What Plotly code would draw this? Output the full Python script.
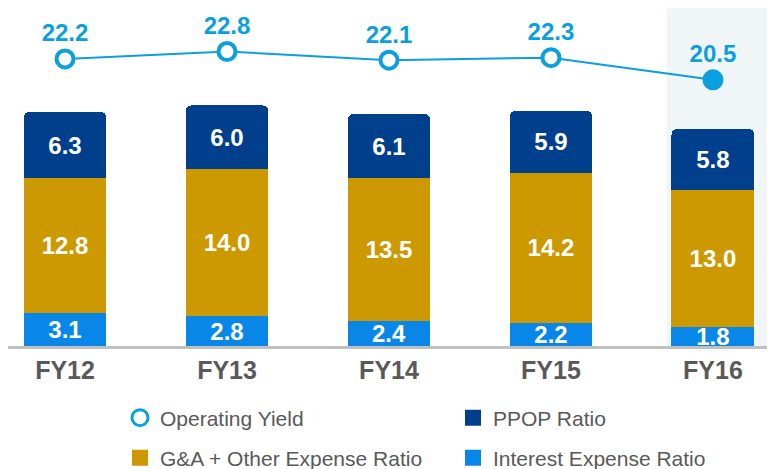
import plotly.graph_objects as go

categories = ["FY12", "FY13", "FY14", "FY15", "FY16"]
interest_expense = [3.1, 2.8, 2.4, 2.2, 1.8]
ga_other_expense = [12.8, 14.0, 13.5, 14.2, 13.0]
ppop_ratio = [6.3, 6.0, 6.1, 5.9, 5.8]
operating_yield = [22.2, 22.8, 22.1, 22.3, 20.5]

C_NAVY = "#003F8C"
C_GOLD = "#CC9900"
C_BLUE = "#0887E8"
C_LINE = "#0AA0E0"
GRAY = "#595959"
FONT = "Arial, Liberation Sans, sans-serif"

x_idx = list(range(len(categories)))

fig = go.Figure()

def fmt(v):
    return [f"{a:.1f}" for a in v]

for name, vals, col in [
    ("Interest Expense Ratio", interest_expense, C_BLUE),
    ("G&A + Other Expense Ratio", ga_other_expense, C_GOLD),
    ("PPOP Ratio", ppop_ratio, C_NAVY),
]:
    fig.add_trace(go.Bar(
        x=x_idx, y=vals, name=name, marker_color=col, marker_line_width=0,
        text=fmt(vals), textposition="inside", insidetextanchor="middle",
        textangle=0, textfont=dict(color="white", size=24, family=FONT, weight="bold"),
        width=0.512, showlegend=False, cliponaxis=False,
    ))

marker_fill = ["white"] * (len(categories) - 1) + [C_LINE]
fig.add_trace(go.Scatter(
    x=x_idx, y=operating_yield, name="Operating Yield", yaxis="y2",
    mode="lines+markers+text", text=fmt(operating_yield), textposition="top center",
    textfont=dict(color=C_LINE, size=24, family=FONT, weight="bold"),
    line=dict(color=C_LINE, width=2),
    marker=dict(size=17, color=marker_fill, line=dict(color=C_LINE, width=4)),
    showlegend=False, cliponaxis=False,
))

# legend entries
def leg(name, legend, symbol, color, lw=0, lc=None):
    fig.add_trace(go.Scatter(
        x=[None], y=[None], mode="markers", name=name, legend=legend,
        marker=dict(symbol=symbol, size=16, color=color,
                    line=dict(width=lw, color=lc or color)),
    ))

leg("Operating Yield", "legend", "circle", "white", 3, C_LINE)
leg("PPOP Ratio", "legend2", "square", C_NAVY)
leg("G&A + Other Expense Ratio", "legend3", "square", C_GOLD)
leg("Interest Expense Ratio", "legend4", "square", C_BLUE)

legfont = dict(size=21, color=GRAY, family=FONT)
common_leg = dict(orientation="h", xref="container", yref="container",
                  xanchor="left", yanchor="middle", font=legfont,
                  bgcolor="rgba(0,0,0,0)")
W, H = 775, 469
col1, col2 = 112 / W, 445 / W
row1, row2 = 1 - 410 / H, 1 - 450 / H

fig.update_layout(
    width=W, height=H,
    margin=dict(l=0, r=8, t=0, b=131),
    paper_bgcolor="white", plot_bgcolor="white",
    barmode="stack", barcornerradius=6,
    uniformtext=dict(minsize=24, mode="show"),
    xaxis=dict(range=[-0.352, 4.383], tickvals=x_idx, ticktext=categories,
               showgrid=False, zeroline=False, showline=True, linecolor="#C0C0C0",
               linewidth=3, ticks="", ticklabelstandoff=0,
               tickfont=dict(size=25, color=GRAY, family=FONT, weight="bold")),
    yaxis=dict(range=[0, 32.04], visible=False, showgrid=False, zeroline=False),
    yaxis2=dict(range=[-1.14, 26.34], overlaying="y", visible=False, showgrid=False,
                zeroline=False),
    legend=dict(x=col1, y=row1, **common_leg),
    legend2=dict(x=col2, y=row1, **common_leg),
    legend3=dict(x=col1, y=row2, **common_leg),
    legend4=dict(x=col2, y=row2, **common_leg),
    shapes=[dict(type="rect", xref="x", yref="paper", x0=3.716, x1=4.34, y0=0, y1=1,
                 fillcolor="#F0F6F8", line_width=0, layer="below")],
)

fig.write_html("out.html")
